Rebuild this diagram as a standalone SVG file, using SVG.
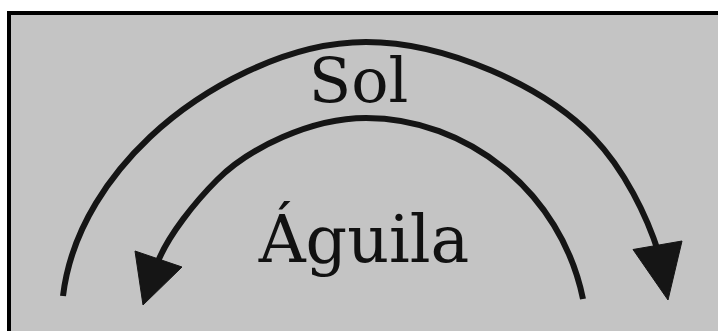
<svg xmlns="http://www.w3.org/2000/svg" width="718" height="331" viewBox="0 0 718 331">
  <style>
    .arc { fill: none; stroke: #151515; stroke-width: 6; stroke-linecap: butt; }
    .head { fill: #151515; stroke: #151515; stroke-width: 1; stroke-linejoin: miter; }
    .label { font-family: "DejaVu Serif", "Liberation Serif", serif; fill: #111; text-anchor: middle; }
  </style>

  <!-- panel -->
  <rect x="0" y="0" width="718" height="331" fill="#ffffff"/>
  <rect x="9" y="13" width="720" height="330" fill="#c4c4c4" stroke="#000" stroke-width="4"/>

  <g id="connectors">
    <!-- outer arc: left to right, head on the right -->
    <path class="arc" d="M63,296 C71.4,226 113.6,171.3 150,137 C201,89 286,42 366,42 C446,42 544.4,86.6 593,137 C624.3,169.4 647,216 659,254"/>
    <polygon class="head" points="668,300 633,249.5 682,241"/>

    <!-- inner arc: right to left, head on the left -->
    <path class="arc" d="M583,299 C561,191 466,118 366,118 C311,118 248.8,148.2 217,180 C195.8,201.2 167.5,235.8 157,264"/>
    <polygon class="head" points="143,305 135,251 182,267"/>
  </g>

  <g id="sol">
    <text class="label" x="358.5" y="102" font-size="62">Sol</text>
  </g>
  <g id="aguila">
    <text class="label" x="364" y="262" font-size="65">Águila</text>
  </g>
</svg>
